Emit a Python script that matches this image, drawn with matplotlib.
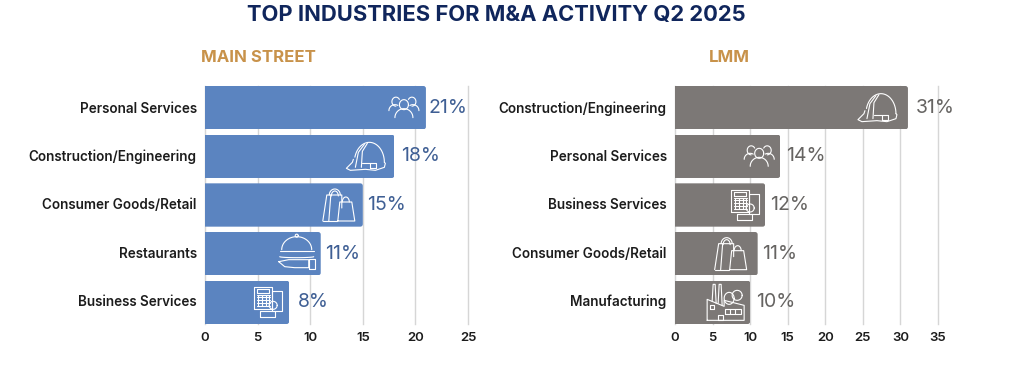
import numpy as np
import matplotlib
matplotlib.use("Agg")
import matplotlib.pyplot as plt
from matplotlib.patches import FancyBboxPatch
from matplotlib.transforms import Affine2D, IdentityTransform

plt.rcParams['font.family'] = ['Inter', 'DejaVu Sans']

TITLE = "TOP INDUSTRIES FOR M&A ACTIVITY Q2 2025"
left_title = "MAIN STREET"
right_title = "LMM"
left_cats = ["Personal Services", "Construction/Engineering", "Consumer Goods/Retail", "Restaurants", "Business Services"]
left_vals = [21, 18, 15, 11, 8]
right_cats = ["Construction/Engineering", "Personal Services", "Business Services", "Consumer Goods/Retail", "Manufacturing"]
right_vals = [31, 14, 12, 11, 10]
left_ticks = [0, 5, 10, 15, 20, 25]
right_ticks = [0, 5, 10, 15, 20, 25, 30, 35]
left_icons = ["people", "helmet", "bags", "cloche", "calc"]
right_icons = ["helmet", "people", "calc", "bags", "factory"]

W, H = 1024, 369
fig = plt.figure(figsize=(W / 100, H / 100), dpi=100, facecolor="white")


def arc(cx, cy, rx, ry, a0, a1, n=30):
    t = np.radians(np.linspace(a0, a1, n))
    return np.c_[cx + rx * np.cos(t), cy + ry * np.sin(t)]


def rect(x0, y0, x1, y1):
    return np.array([[x0, y0], [x1, y0], [x1, y1], [x0, y1], [x0, y0]])


def icon_people():
    return [arc(0, 3, 4.5, 5, 0, 360), arc(-8, 6, 4, 4.5, 30, 270), arc(8, 6, 4, 4.5, -90, 150),
            arc(0, -10, 9, 9, 0, 180), arc(-9, -3, 6, 6, 60, 180), arc(9, -3, 6, 6, 0, 120)]


def icon_helmet():
    return [arc(2, -6, 15, 20, 0, 165),
            np.array([[-14, -3], [-15, -6], [-21, -12], [-17, -14], [-2, -13], [8, -14], [17, -11], [18, -7], [17, -6]]),
            np.array([[-12, -11], [-9, 4], [-3, 12]]),
            np.array([[-6, -11], [-5, 5], [0, 13]]),
            rect(3, -12, 9, -7), np.array([[-5, -7], [3, -7]])]


def icon_bags():
    return [np.array([[-16, -16], [-12, 10], [3, 10], [3, -3]]), np.array([[-16, -16], [-2, -16]]),
            np.array([[-10, -16], [-8, 10]]),
            arc(-4, 10, 5.5, 6, 0, 180), arc(-4, 9, 3.5, 5, 0, 180),
            np.array([[-1, -16], [1, 3], [13, 3], [16, -16], [-1, -16]]),
            arc(7, 3, 3.5, 5, 0, 180)]


def icon_cloche():
    return [arc(0, 4, 15, 13, 0, 180), np.array([[-17, 3], [17, 3]]), arc(0, 18, 1.5, 1.5, 0, 360),
            arc(0, -3, 17, 1, 180, 360),
            np.array([[-18, -8], [-8, -6], [12, -6], [12, -14], [-2, -14], [-12, -13], [-18, -8]]),
            rect(12, -15, 18, -5)]


def icon_calc():
    lines = [rect(-14, -7, 4, 15), rect(-11, 9, 1, 13), rect(-8, -15, 7, -9), rect(4, -9, 14, 11)]
    for x in (-10, -6, -2, 1):
        lines.append(np.array([[x, -4], [x, 7]]))
    for y in (-4, -1, 2, 5, 7):
        lines.append(np.array([[-11, y], [2, y]]))
    lines.append(arc(5, -3, 4, 4, 0, 360))
    return lines


def icon_factory():
    return [np.array([[-19, -18], [-19, 3], [-2, -4], [-2, 2], [18, -3], [18, -18], [-19, -18]]),
            np.array([[-14, 1], [-13, 18], [-11, 18], [-10, -1]]),
            np.array([[-8, -1], [-7, 18], [-5, 18], [-4, -3]]),
            arc(3, 4, 5, 6, 0, 360), arc(11, 7, 5, 5, 0, 360), rect(-16, -7, -12, -3),
            rect(-8, -18, -3, -13), rect(-1, -12, 15, -7),
            np.array([[4, -12], [4, -7]]), np.array([[9, -12], [9, -7]])]


ICONS = dict(people=icon_people, helmet=icon_helmet, bags=icon_bags,
             cloche=icon_cloche, calc=icon_calc, factory=icon_factory)
ICON_DX = {"left": [-22, -27, -24, -24, -21], "right": [-29, -21, -20, -27, -24]}
LABEL_PAD = {"left": [3, 7, 4, 4, 9], "right": [8, 6, 5, 4, 6]}


def panel(x0, x1, cats, vals, ticks, xmax, color, label_color, title, title_x, icons, side):
    y_top, y_bot = 86, 324
    ax = fig.add_axes([x0 / W, 1 - y_bot / H, (x1 - x0) / W, (y_bot - y_top) / H])
    ax.set_xlim(0, xmax)
    ax.set_ylim(4.445, -0.445)
    for s in ax.spines.values():
        s.set_visible(False)
    ax.set_axisbelow(True)
    ax.grid(axis="x", color="#d6d6d6", lw=1.0, clip_on=False)
    ax.set_xticks(ticks)
    ax.set_yticks(np.arange(len(cats)) * 0.992 - 0.01)
    ax.set_yticklabels(cats, fontsize=9.7, fontweight=600, color="#1c1c1c")
    for t in ax.get_yticklabels():
        t.set_va("center_baseline")
    ax.tick_params(axis="y", length=0, pad=6)
    ax.tick_params(axis="x", length=0, pad=6, labelsize=9.5, labelcolor="#1c1c1c")
    for t in ax.get_xticklabels():
        t.set_fontweight(600)
    bars = ax.barh(range(len(cats)), vals, height=0.89, color=color, zorder=2)
    fig.canvas.draw()
    for bar, v, i, name, dx, pad in zip(bars, vals, range(len(vals)), icons, ICON_DX[side], LABEL_PAD[side]):
        bb = bar.get_window_extent()
        clip = FancyBboxPatch((bb.x0 - 6, bb.y0), bb.width + 6, bb.height,
                              boxstyle="round,pad=0,rounding_size=2.5", transform=IdentityTransform())
        bar.set_clip_path(clip)
        ax.annotate(f"{v}%", (v, i), xytext=(pad, 0), textcoords="offset pixels",
                    va="center", ha="left", fontsize=14, color=label_color, zorder=3)
        cx, cy = ax.transData.transform((v, i))
        tr = Affine2D().translate(cx + dx, cy)
        for pts in ICONS[name]():
            fig.add_artist(plt.Line2D(pts[:, 0], pts[:, 1], transform=tr, color="white",
                                      lw=0.8, solid_capstyle="round", zorder=5))
    fig.text(title_x / W, 1 - 58 / H, title, ha="center", va="center", fontsize=12.1,
             fontweight=700, color="#c8924a")


panel(205, 468, left_cats, left_vals, left_ticks, 25, "#5b84c0", "#3f5f94",
      left_title, 258.5, left_icons, "left")
panel(675, 938, right_cats, right_vals, right_ticks, 35, "#7c7876", "#666462",
      right_title, 729, right_icons, "right")

fig.text(496 / W, 1 - 15 / H, TITLE, ha="center", va="center", fontsize=15.8,
         fontweight=700, color="#10265c")

fig.savefig("out.png", dpi=100)
